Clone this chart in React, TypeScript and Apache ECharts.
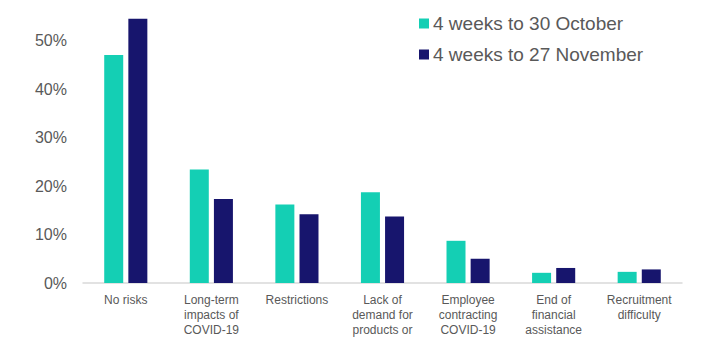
import React, { useEffect, useRef } from "react";
import * as echarts from "echarts";

const categories = [
  "No risks",
  "Long-term\nimpacts of\nCOVID-19",
  "Restrictions",
  "Lack of\ndemand for\nproducts or",
  "Employee\ncontracting\nCOVID-19",
  "End of\nfinancial\nassistance",
  "Recruitment\ndifficulty",
];
const seriesNames = ["4 weeks to 30 October", "4 weeks to 27 November"];
const october = [0.47, 0.234, 0.162, 0.187, 0.087, 0.021, 0.023];
const november = [0.545, 0.173, 0.142, 0.137, 0.05, 0.031, 0.028];
const colors = ["#14CFB4", "#17156D"];

export default function App() {
  const ref = useRef<HTMLDivElement>(null);
  useEffect(() => {
    if (!ref.current) return;
    const chart = echarts.init(ref.current, null, { renderer: "svg" });
    chart.setOption({
      animation: false,
      textStyle: { fontFamily: "Liberation Sans, Arial, sans-serif" },
      legend: {
        orient: "vertical",
        left: 419,
        top: 14,
        padding: 0,
        itemWidth: 10,
        itemHeight: 10,
        itemGap: 12,
        icon: "rect",
        textStyle: { fontSize: 19, color: "#595959", padding: [0, 0, 0, -1] },
        data: seriesNames,
      },
      grid: { left: 83, right: 31, top: 16.25, bottom: 54, containLabel: false },
      xAxis: {
        type: "category",
        data: categories,
        axisLine: { lineStyle: { color: "#D9D9D9", width: 1.5 } },
        axisTick: { show: false },
        axisLabel: {
          interval: 0,
          margin: 9,
          fontSize: 12,
          lineHeight: 15,
          color: "#595959",
        },
      },
      yAxis: {
        type: "value",
        min: 0,
        max: 0.55,
        interval: 0.1,
        splitLine: { show: false },
        axisLine: { show: false },
        axisTick: { show: false },
        axisLabel: {
          margin: 16,
          fontSize: 16,
          color: "#595959",
          showMaxLabel: false,
          formatter: (v: number) => `${Math.round(v * 100)}%`,
        },
      },
      series: [
        {
          name: seriesNames[0],
          type: "bar",
          data: october,
          barWidth: 19,
          barGap: "27%",
          itemStyle: { color: colors[0] },
        },
        {
          name: seriesNames[1],
          type: "bar",
          data: november,
          barWidth: 19,
          barGap: "27%",
          itemStyle: { color: colors[1] },
        },
      ],
    });
    return () => chart.dispose();
  }, []);
  return <div ref={ref} style={{ width: 713, height: 337, position: "absolute", left: 0, top: 0 }} />;
}
